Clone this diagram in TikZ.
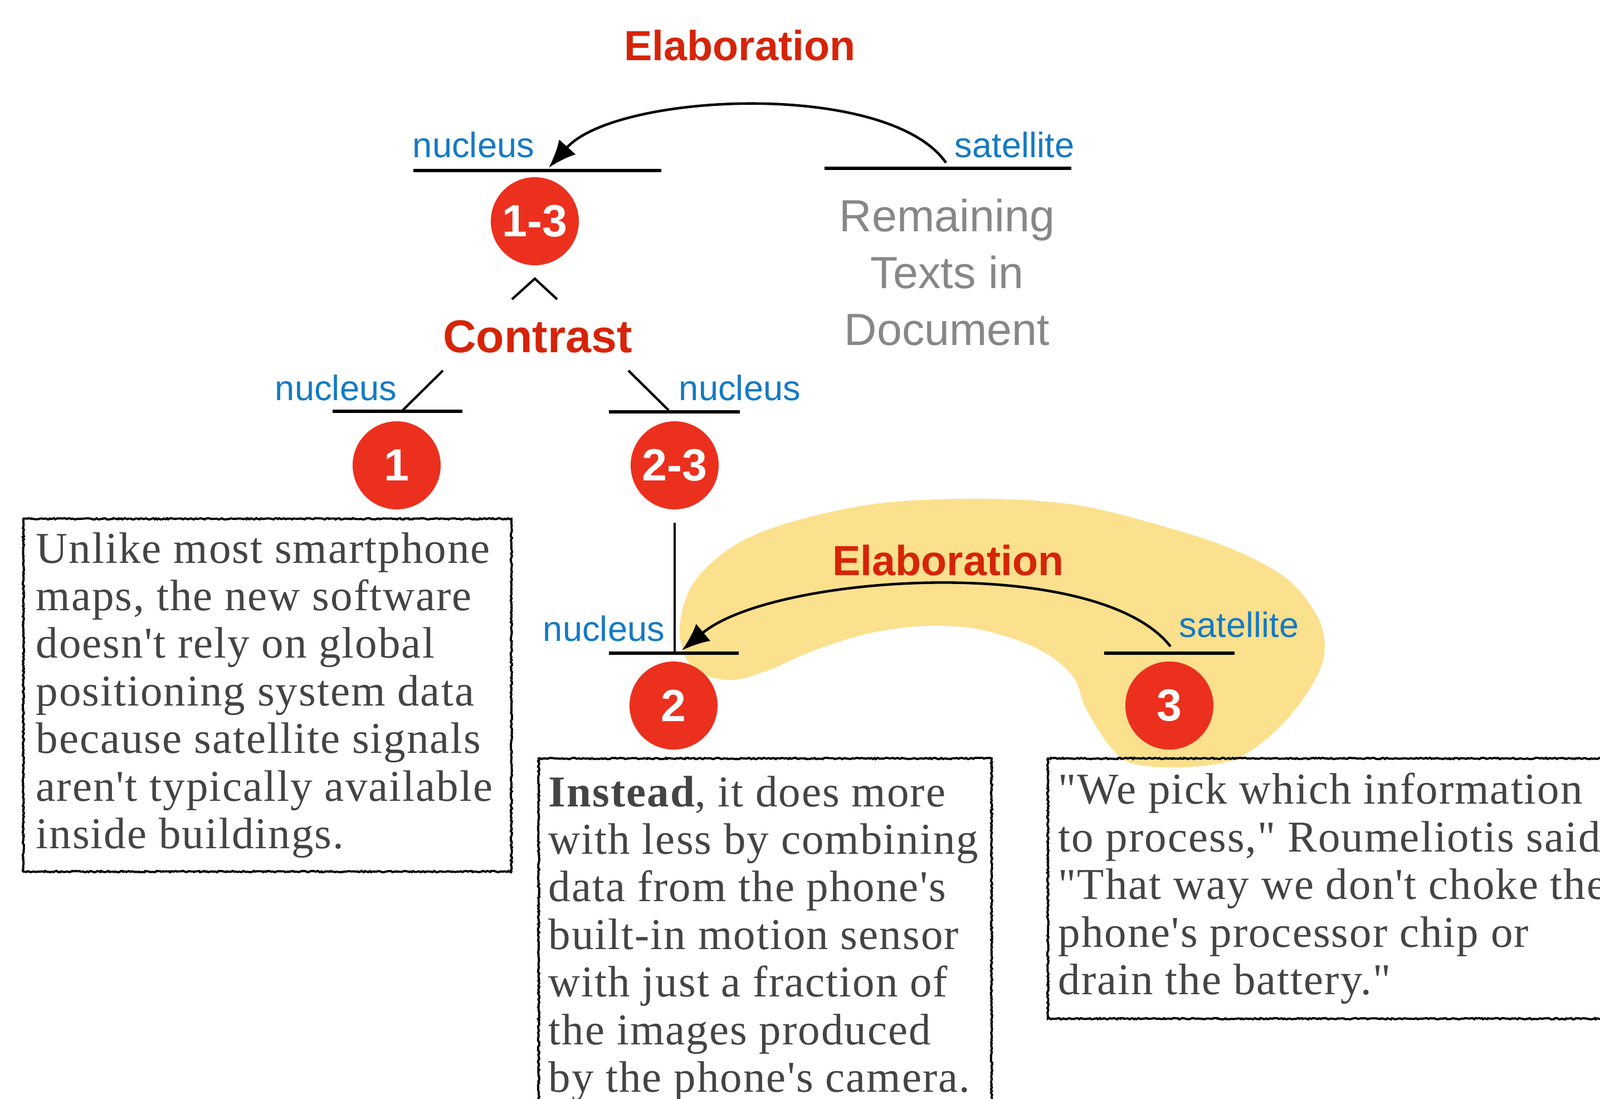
\documentclass[tikz,border=0pt]{standalone}
\usepackage{fontspec}
\setmainfont{Liberation Serif}[Ligatures=TeXOff, LetterSpace=2.5]
\newfontfamily\labelsans{Liberation Sans}
\usetikzlibrary{arrows.meta,decorations.pathmorphing}

\definecolor{unitred}{RGB}{236,48,30}
\definecolor{relred}{RGB}{214,36,8}
\definecolor{roleblue}{RGB}{20,122,196}
\definecolor{spanyellow}{RGB}{251,224,142}
\definecolor{boxtext}{RGB}{68,68,68}
\definecolor{resttext}{RGB}{135,135,135}

\begin{document}
\begin{tikzpicture}[
    unit/.style={circle, fill=unitred, text=white, minimum size=1.58cm, inner sep=0pt, font=\labelsans\bfseries\fontsize{23}{23}\selectfont},
    rel/.style={text=relred, font=\labelsans\bfseries\fontsize{21.5}{22}\selectfont},
    role/.style={text=roleblue, font=\labelsans\fontsize{18}{18}\selectfont},
    bar/.style={line width=1.8pt},
    edge/.style={line width=1.2pt},
    arc/.style={line width=1.3pt, -{Latex[length=5mm,width=4mm]}},
    txtbox/.style={draw, line width=1.1pt, anchor=north west, inner sep=0pt, decorate, decoration={random steps, segment length=0.8pt, amplitude=0.35pt}},
    txt/.style={anchor=west, align=left, inner sep=0pt, text=boxtext, font=\fontsize{22.5}{24.3}\selectfont}
]
\useasboundingbox (0,0) rectangle (28.72,19.72);

% span of units 2 and 3
\fill[spanyellow] plot[smooth cycle, tension=0.55] coordinates {
    (12.61,7.62) (12.31,7.92) (12.20,8.49) (12.44,9.25) (13.16,9.92) (14.19,10.35)
    (15.79,10.69) (17.70,10.77) (19.37,10.65) (20.97,10.25) (22.16,9.85) (23.12,9.32)
    (23.68,8.59) (23.76,7.92) (23.44,7.25) (22.88,6.59) (22.16,6.09) (21.21,5.95)
    (20.33,6.02) (19.93,6.32) (19.50,6.99) (19.30,7.52) (18.94,7.89) (18.38,8.19)
    (17.61,8.42) (16.95,8.49) (16.34,8.47) (15.57,8.35) (14.81,8.12) (14.30,7.92)
    (13.79,7.69) (13.17,7.52)};

% top level
\node[rel] (elabTop) at (13.28,18.90) {Elaboration};
\node[role] (nucTopLbl) at (8.50,17.12) {nucleus};
\node[role] (satTopLbl) at (18.21,17.12) {satellite};
\draw[bar] (7.42,16.66) -- (11.87,16.66);
\draw[bar] (14.80,16.70) -- (19.23,16.70);
\coordinate (satTop) at (16.98,16.80);
\coordinate (nucTop) at (9.85,16.71);
\draw[arc] (satTop) to[out=125,in=48,looseness=0.65] (nucTop);

\node[unit] (u13) at (9.60,15.75) {1-3};
\node[text=resttext, align=center, font=\labelsans\fontsize{23}{29}\selectfont] (rest) at (17.00,14.83) {Remaining\\Texts in\\Document};

% contrast
\coordinate (capL) at (9.19,14.35);
\coordinate (capT) at (9.60,14.72);
\coordinate (capR) at (10.00,14.35);
\draw[edge] (capL) -- (capT) -- (capR);
\node[rel, font=\labelsans\bfseries\fontsize{23.5}{24}\selectfont] (contrast) at (9.65,13.68) {Contrast};

\node[role] (nucLeftLbl) at (6.03,12.76) {nucleus};
\node[role] (nucRightLbl) at (13.28,12.76) {nucleus};
\coordinate (dlTop) at (7.95,13.07);
\coordinate (dlBot) at (7.23,12.36);
\coordinate (drTop) at (11.28,13.07);
\coordinate (drBot) at (12.00,12.36);
\draw[edge] (dlTop) -- (dlBot);
\draw[edge] (drTop) -- (drBot);
\draw[bar] (5.97,12.34) -- (8.30,12.34);
\draw[bar] (10.93,12.33) -- (13.28,12.33);

\node[unit] (u1) at (7.12,11.37) {1};
\node[unit] (u23) at (12.11,11.37) {2-3};

% lower elaboration
\coordinate (vTop) at (12.11,10.34);
\coordinate (vBot) at (12.11,8.00);
\draw[line width=1pt] (vTop) -- (vBot);
\node[rel] (elabLow) at (17.02,9.66) {Elaboration};
\node[role] (nucLowLbl) at (10.84,8.44) {nucleus};
\node[role] (satLowLbl) at (22.24,8.51) {satellite};
\draw[bar] (10.93,8.00) -- (13.26,8.00);
\draw[bar] (19.82,8.00) -- (22.16,8.00);
\coordinate (satLow) at (21.01,8.12);
\coordinate (nucLow) at (12.24,8.05);
\draw[arc] (satLow) to[out=128,in=40,looseness=0.62] (nucLow);

\node[unit] (u2) at (12.09,7.06) {2};
\node[unit] (u3) at (20.99,7.06) {3};

% text spans
\node[txtbox, minimum width=8.76cm, minimum height=6.33cm] (box1) at (0.40,10.43) {};
\node[txt] (txt1) at ([xshift=0.24cm]box1.west) {Unlike most smartphone\\maps, the new software\\doesn't rely on global\\positioning system data\\because satellite signals\\aren't typically available\\inside buildings.};
\node[txtbox, minimum width=8.13cm, minimum height=6.33cm] (box2) at (9.65,6.13) {};
\node[txt] (txt2) at ([xshift=0.19cm,yshift=-0.07cm]box2.west) {\textbf{Instead}, it does more\\with less by combining\\data from the phone's\\built-in motion sensor\\with just a fraction of\\the images produced\\by the phone's camera.};
\node[txtbox, minimum width=11cm, minimum height=4.67cm] (box3) at (18.79,6.13) {};
\node[txt] (txt3) at ([xshift=0.20cm]box3.west) {"We pick which information\\to process," Roumeliotis said\\"That way we don't choke the\\phone's processor chip or\\drain the battery."};
\end{tikzpicture}
\end{document}
